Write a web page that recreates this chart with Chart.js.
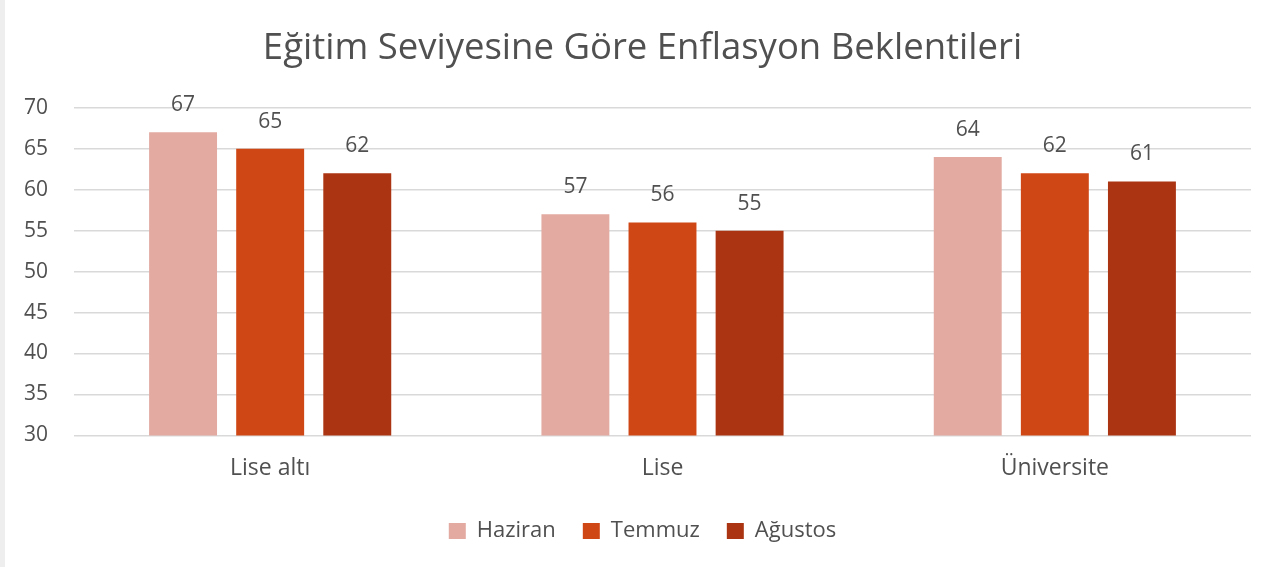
<!DOCTYPE html>
<html lang="tr">
<head>
<meta charset="utf-8">
<title>Eğitim Seviyesine Göre Enflasyon Beklentileri</title>
<script src="https://cdn.jsdelivr.net/npm/chart.js@4/dist/chart.umd.min.js"></script>
<style>
  html, body { margin: 0; padding: 0; background: #ffffff; }
  body { width: 1280px; height: 567px; overflow: hidden; }
  .frame { position: absolute; left: 0; top: 0; width: 1280px; height: 567px; border-left: 5px solid #eeeeee; box-sizing: border-box; }
  .wrap { position: absolute; left: 5px; top: 0; width: 1275px; height: 567px; }
</style>
</head>
<body>
<div class="frame"></div>
<div class="wrap"><canvas id="egitimChart"></canvas></div>
<script>
  var categories = ['Lise altı', 'Lise', 'Üniversite'];
  var haziranValues = [67, 57, 64];
  var temmuzValues = [65, 56, 62];
  var agustosValues = [62, 55, 61];
  var seriesNames = ['Haziran', 'Temmuz', 'Ağustos'];
  var yTicks = { min: 30, max: 70, step: 5 };

  var textColor = '#505050';
  var fontFamily = '"Open Sans", "Noto Sans", sans-serif';

  var valueLabels = {
    id: 'valueLabels',
    afterDatasetsDraw: function (chart) {
      var ctx = chart.ctx;
      ctx.save();
      ctx.fillStyle = textColor;
      ctx.font = '21px ' + fontFamily;
      ctx.textAlign = 'center';
      ctx.textBaseline = 'middle';
      chart.data.datasets.forEach(function (dataset, i) {
        var meta = chart.getDatasetMeta(i);
        meta.data.forEach(function (bar, j) {
          ctx.fillText(String(dataset.data[j]), bar.x, bar.y - 27);
        });
      });
      ctx.restore();
    }
  };

  new Chart(document.getElementById('egitimChart'), {
    type: 'bar',
    data: {
      labels: categories,
      datasets: [
        { label: seriesNames[0], data: haziranValues, backgroundColor: '#e2aaa1' },
        { label: seriesNames[1], data: temmuzValues, backgroundColor: '#d04716' },
        { label: seriesNames[2], data: agustosValues, backgroundColor: '#ab3512' }
      ]
    },
    options: {
      responsive: true,
      maintainAspectRatio: false,
      animation: false,
      categoryPercentage: 0.666,
      barPercentage: 0.78,
      layout: { padding: { left: 0, right: 0, top: 0, bottom: 15 } },
      scales: {
        x: {
          grid: { display: false },
          border: { display: false },
          ticks: { color: textColor, font: { family: fontFamily, size: 23 }, padding: 11 }
        },
        y: {
          min: yTicks.min,
          max: yTicks.max,
          ticks: { stepSize: yTicks.step, color: textColor, font: { family: fontFamily, size: 21 }, padding: 26 },
          grid: { color: '#d9d9d9', lineWidth: 1.5, drawTicks: false },
          border: { display: false },
          afterFit: function (scale) { scale.width = 69; }
        },
        yRight: {
          position: 'right',
          ticks: { display: false },
          grid: { display: false },
          border: { display: false },
          afterFit: function (scale) { scale.width = 29; }
        }
      },
      plugins: {
        title: {
          display: true,
          text: 'Eğitim Seviyesine Göre Enflasyon Beklentileri',
          color: textColor,
          font: { family: fontFamily, size: 36.5, weight: 'normal' },
          padding: { top: 27, bottom: 37 }
        },
        legend: {
          position: 'bottom',
          labels: {
            color: textColor,
            font: { family: fontFamily, size: 22 },
            boxWidth: 17,
            boxHeight: 16,
            padding: 27
          }
        },
        tooltip: { enabled: false }
      }
    },
    plugins: [valueLabels]
  });
</script>
</body>
</html>
